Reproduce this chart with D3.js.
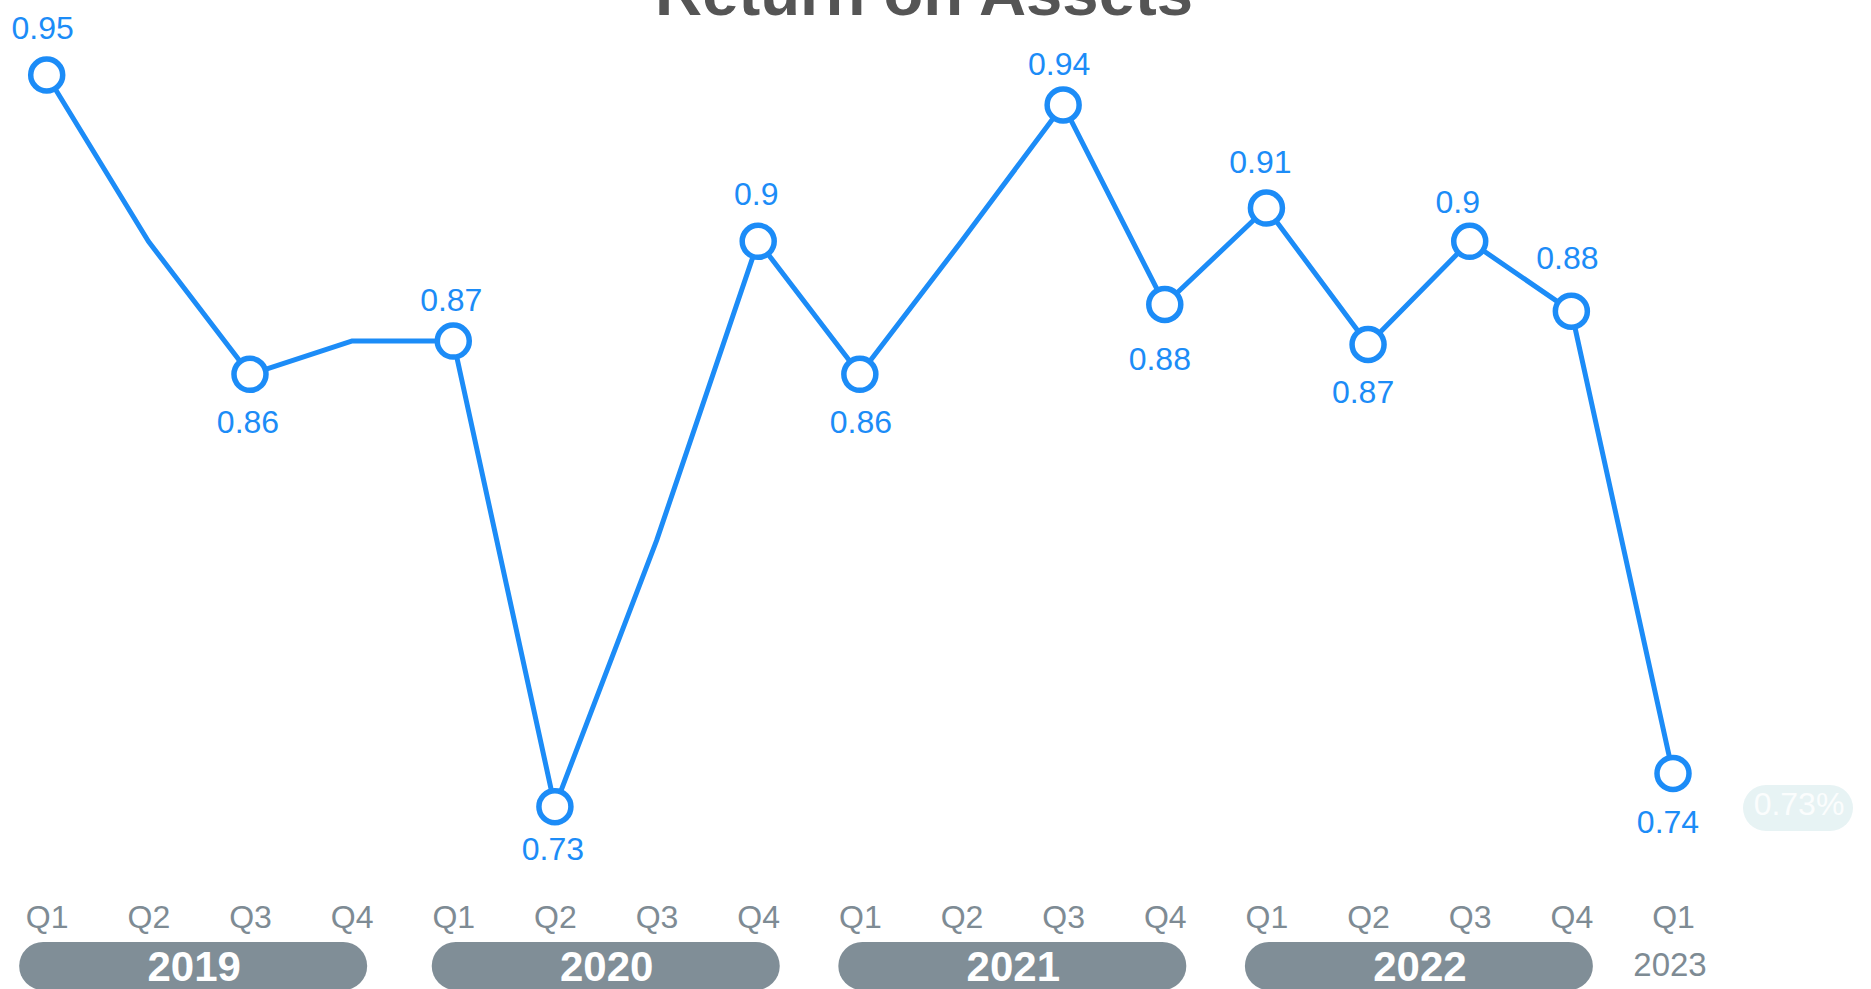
<!DOCTYPE html>
<html>
<head>
<meta charset="utf-8">
<script src="https://cdn.jsdelivr.net/npm/d3@7"></script>
<style>
  html, body { margin: 0; padding: 0; background: #ffffff; overflow: hidden; }
  svg { display: block; font-family: "Liberation Sans", Arial, Helvetica, sans-serif; }
</style>
</head>
<body>
<svg id="chart" width="1871" height="989"></svg>
<script>
// ---- data ----
const chartTitle = "Return on Assets";
const quarterLabels = ["Q1","Q2","Q3","Q4","Q1","Q2","Q3","Q4","Q1","Q2","Q3","Q4","Q1","Q2","Q3","Q4","Q1"];
const yearLabels = ["2019","2019","2019","2019","2020","2020","2020","2020","2021","2021","2021","2021","2022","2022","2022","2022","2023"];
const roaValues = [0.95, 0.90, 0.86, 0.87, 0.87, 0.73, 0.81, 0.90, 0.86, 0.90, 0.941, 0.881, 0.91, 0.869, 0.90, 0.879, 0.74];
const showMarker = [true, false, true, false, true, true, false, true, true, false, true, true, true, true, true, true, true];
const badgeText = "0.73%";
const fullYears = ["2019","2020","2021","2022"];
const partialYears = ["2023"];

// ---- layout (label nudges, px) ----
const labelDy = [-36, 0, 59, 0, -30, 53, 0, -36, 59, 0, -30, 66, -35, 59, -28, -42, 60];
const labelDx = [-4, 0, -2, 0, -2, -2, 0, -2, 1, 0, -4, -5, -6, -5, -12, -4, -5];
const pillDx = [-6, 0, 0, 0];

const W = 1871, H = 989;
const blue = "#1c8cf7";
const grayText = "#7e8b94";
const pillFill = "#808e97";

const svg = d3.select("#chart");
const idx = d3.range(roaValues.length);

const x = d3.scalePoint().domain(idx).range([46.7, 1673]);
const y = d3.scaleLinear().domain([0.73, 0.95]).range([806.7, 75]);

// title (partially cut at the top)
svg.append("text")
  .attr("x", 924).attr("y", 15)
  .attr("text-anchor", "middle")
  .attr("font-size", 65)
  .attr("font-weight", "bold")
  .attr("fill", "#555555")
  .attr("textLength", 538)
  .attr("lengthAdjust", "spacingAndGlyphs")
  .text(chartTitle);

// line
const line = d3.line().x(i => x(i)).y(i => y(roaValues[i]));
svg.append("path")
  .datum(idx)
  .attr("d", line)
  .attr("fill", "none")
  .attr("stroke", blue)
  .attr("stroke-width", 5)
  .attr("stroke-linejoin", "round");

// markers
const marked = idx.filter(i => showMarker[i]);
svg.selectAll("circle.pt").data(marked).join("circle")
  .attr("class", "pt")
  .attr("cx", i => x(i)).attr("cy", i => y(roaValues[i]))
  .attr("r", 16)
  .attr("fill", "#ffffff")
  .attr("stroke", blue)
  .attr("stroke-width", 5.5);

// value labels
const fmt = d3.format(".2~f");
svg.selectAll("text.val").data(marked).join("text")
  .attr("class", "val")
  .attr("x", i => x(i) + labelDx[i])
  .attr("y", i => y(roaValues[i]) + labelDy[i])
  .attr("text-anchor", "middle")
  .attr("font-size", 32)
  .attr("fill", blue)
  .text(i => fmt(roaValues[i]));

// quarter axis
const xAxis = d3.axisBottom(x).tickSize(0).tickPadding(0).tickFormat(i => quarterLabels[i]);
const axisG = svg.append("g").attr("transform", "translate(0,905)").call(xAxis);
axisG.select(".domain").remove();
axisG.selectAll("text")
  .attr("dy", "0.71em")
  .attr("font-size", 32)
  .attr("font-family", "Liberation Sans, Arial, sans-serif")
  .attr("fill", grayText);

// year pills
const yearGroups = fullYears.map((yr, k) => {
  const ii = idx.filter(i => yearLabels[i] === yr);
  return { yr, cx: (x(ii[0]) + x(ii[ii.length - 1])) / 2 + pillDx[k] };
});
const pills = svg.selectAll("g.pill").data(yearGroups).join("g").attr("class", "pill");
pills.append("rect")
  .attr("x", d => d.cx - 174)
  .attr("y", 942)
  .attr("width", 348)
  .attr("height", 48)
  .attr("rx", 24)
  .attr("fill", pillFill);
pills.append("text")
  .attr("x", d => d.cx + 1)
  .attr("y", 981)
  .attr("text-anchor", "middle")
  .attr("font-size", 42)
  .attr("font-weight", "bold")
  .attr("fill", "#ffffff")
  .text(d => d.yr);

// partial year label
partialYears.forEach(yr => {
  const ii = idx.filter(i => yearLabels[i] === yr);
  svg.append("text")
    .attr("x", x(ii[0]) - 3)
    .attr("y", 976)
    .attr("text-anchor", "middle")
    .attr("font-size", 33)
    .attr("fill", grayText)
    .text(yr);
});

// badge
const badge = svg.append("g");
badge.append("rect")
  .attr("x", 1743).attr("y", 785)
  .attr("width", 110).attr("height", 46)
  .attr("rx", 23)
  .attr("fill", "#e7f3f4");
badge.append("text")
  .attr("x", 1799).attr("y", 815)
  .attr("text-anchor", "middle")
  .attr("font-size", 32)
  .attr("fill", "#fbfdfd")
  .text(badgeText);
</script>
</body>
</html>
